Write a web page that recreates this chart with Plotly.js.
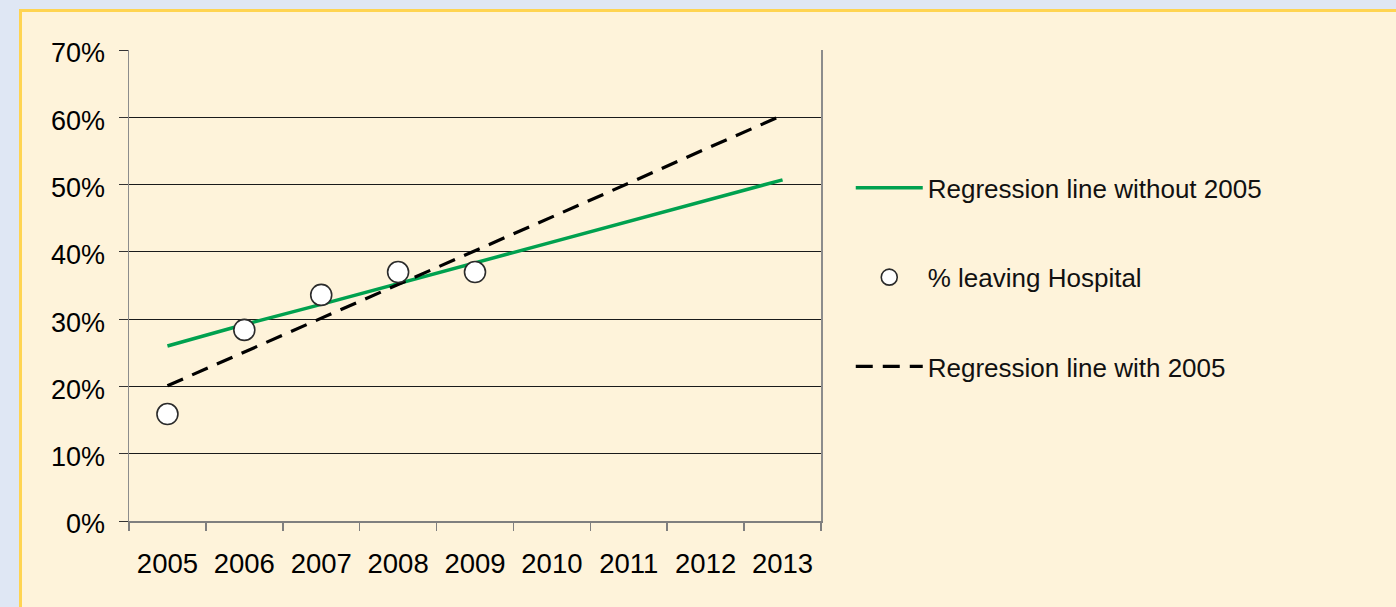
<!DOCTYPE html>
<html>
<head>
<meta charset="utf-8">
<script src="https://cdn.plot.ly/plotly-3.0.1.min.js"></script>
<style>
  html, body { margin: 0; padding: 0; width: 1396px; height: 607px; overflow: hidden; background: #dfe7f4; }
  #panel { position: absolute; left: 19px; top: 9px; width: 1420px; height: 700px; background: #fef3da; border-left: 3px solid #ffd451; border-top: 3px solid #ffd451; }
  #chart { position: absolute; left: 0; top: 0; width: 1396px; height: 607px; }
</style>
</head>
<body>
<div id="panel"></div>
<div id="chart"></div>
<script>
// Data
const years = ['2005', '2006', '2007', '2008', '2009', '2010', '2011', '2012', '2013'];
const pointYears = ['2005', '2006', '2007', '2008', '2009'];
const leavingHospital = [0.159, 0.284, 0.336, 0.370, 0.370];
const regressionWithout2005 = [0.260, 0.292, 0.322, 0.353, 0.384, 0.414, 0.445, 0.476, 0.507];
const regressionWith2005 = [0.201, 0.251, 0.301, 0.351, 0.402, 0.452, 0.502, 0.553, 0.603];
const yTickVals = [0, 0.1, 0.2, 0.3, 0.4, 0.5, 0.6, 0.7];

const FONT = 'Arial, "Liberation Sans", sans-serif';

const traces = [
  {
    x: years, y: regressionWithout2005, type: 'scatter', mode: 'lines',
    name: 'Regression line without 2005',
    line: { color: '#00a14f', width: 3.5 },
    legendgroup: 'g1', legendrank: 1, hoverinfo: 'skip'
  },
  {
    x: years, y: regressionWith2005, type: 'scatter', mode: 'lines',
    name: 'Regression line with 2005',
    line: { color: '#000000', width: 3.2, dash: '17px,10px' },
    legendgroup: 'g3', legendrank: 3, hoverinfo: 'skip'
  },
  {
    x: pointYears, y: leavingHospital, type: 'scatter', mode: 'markers',
    name: '% leaving Hospital',
    marker: { symbol: 'circle', size: 21, color: '#ffffff', line: { color: '#2b2b2b', width: 1.6 } },
    legendgroup: 'g2', legendrank: 2
  }
];

const layout = {
  width: 1396, height: 607,
  margin: { l: 129, r: 575, t: 50, b: 86, pad: 0 },
  paper_bgcolor: 'rgba(0,0,0,0)',
  plot_bgcolor: 'rgba(0,0,0,0)',
  font: { family: FONT, color: '#000000', size: 26 },
  showlegend: true,
  legend: {
    x: 1.043, xanchor: 'left', y: 0.757, yanchor: 'top',
    font: { family: FONT, size: 26, color: '#111111' },
    tracegroupgap: 52.5, traceorder: 'grouped',
    bgcolor: 'rgba(0,0,0,0)', itemwidth: 67
  },
  xaxis: {
    type: 'category', categoryorder: 'array', categoryarray: years,
    tickson: 'boundaries', ticks: 'outside', ticklen: 8, tickwidth: 1.5, tickcolor: '#7f7f7f',
    showline: true, linecolor: '#7f7f7f', linewidth: 1.5,
    showgrid: false, zeroline: false,
    tickfont: { family: FONT, size: 27.5, color: '#000000' },
    ticklabelstandoff: 17,
    range: [-0.5, 8.5]
  },
  yaxis: {
    range: [0, 0.70], tickvals: yTickVals, tickformat: '.0%',
    ticks: 'outside', ticklen: 9, tickwidth: 1, tickcolor: '#333333',
    showline: true, mirror: true, linecolor: '#8c8c8c', linewidth: 1.5,
    showgrid: true, gridcolor: '#1a1a1a', gridwidth: 1, zeroline: false,
    tickfont: { family: FONT, size: 27, color: '#000000' },
    ticklabelstandoff: 8, ticklabelshift: 3
  }
};

Plotly.newPlot('chart', traces, layout, { staticPlot: true, displayModeBar: false });
</script>
</body>
</html>
